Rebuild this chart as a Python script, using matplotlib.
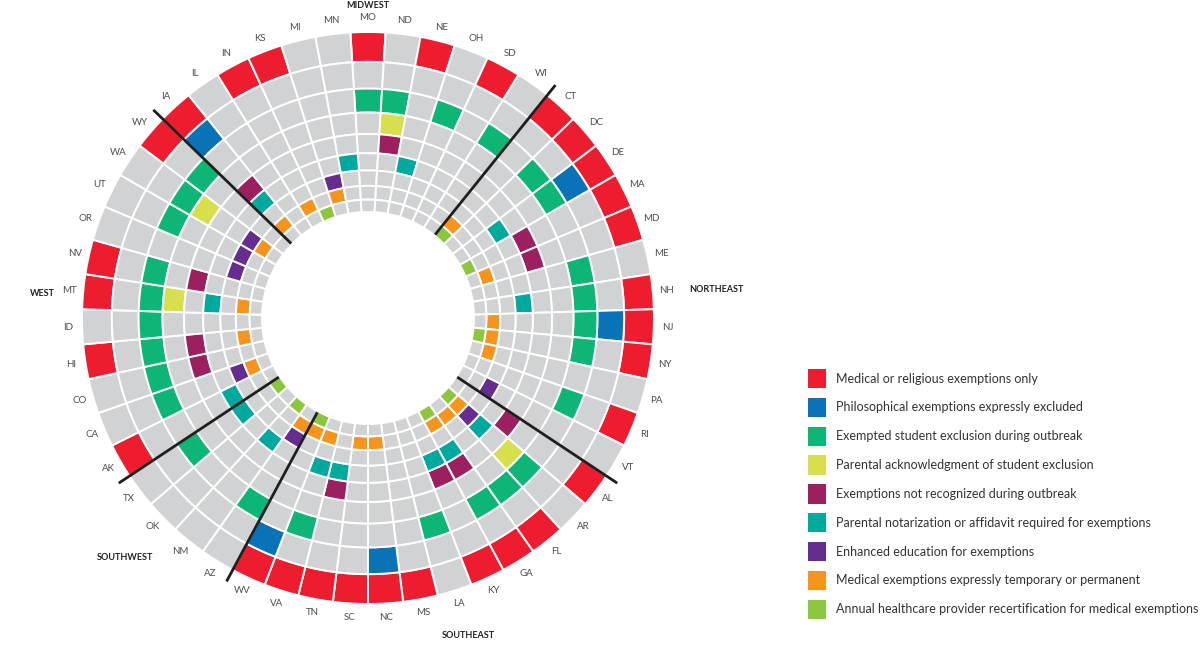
"""Circular heat map: school vaccine-exemption policies by state, grouped by region."""

import numpy as np
import matplotlib
matplotlib.use("Agg")
import matplotlib.pyplot as plt
from matplotlib.patches import Patch
from matplotlib import font_manager


# regions, each in alphabetical order; the wheel runs clockwise from MO at the top
MIDWEST = ["IA", "IL", "IN", "KS", "MI", "MN", "MO", "ND", "NE", "OH", "SD", "WI"]
NORTHEAST = ["CT", "DC", "DE", "MA", "MD", "ME", "NH", "NJ", "NY", "PA", "RI", "VT"]
SOUTHEAST = ["AL", "AR", "FL", "GA", "KY", "LA", "MS", "NC", "SC", "TN", "VA", "WV"]
SOUTHWEST = ["AZ", "NM", "OK", "TX"]
WEST = ["AK", "CA", "CO", "HI", "ID", "MT", "NV", "OR", "UT", "WA", "WY"]

# one ring per policy, outermost first
POLICIES = [
    "Medical or religious exemptions only",
    "Philosophical exemptions expressly excluded",
    "Exempted student exclusion during outbreak",
    "Parental acknowledgment of student exclusion",
    "Exemptions not recognized during outbreak",
    "Parental notarization or affidavit required for exemptions",
    "Enhanced education for exemptions",
    "Medical exemptions expressly temporary or permanent",
    "Annual healthcare provider recertification for medical exemptions",
]
COLORS = ["#ed1c2e", "#0a73b8", "#0db676", "#d8df4c", "#9c1f5f",
          "#00a99d", "#662d91", "#f7941d", "#8cc63f"]
GRAY = "#d1d2d4"

MED_REL_ONLY = ["IN", "KS", "MO", "NE", "SD", "CT", "DC", "DE", "MA", "MD", "NH",
                "NJ", "NY", "RI", "AL", "FL", "GA", "KY", "MS", "NC", "SC", "TN",
                "VA", "WV", "AK", "HI", "MT", "NV", "WY", "IA"]
PHIL_EXCLUDED = ["IA", "DE", "NJ", "WV", "NC"]
EXCLUSION = ["MO", "ND", "OH", "WI", "DC", "DE", "ME", "NH", "NJ", "NY", "RI",
             "AR", "FL", "GA", "LA", "VA", "AZ", "TX", "CA", "CO", "HI", "ID",
             "MT", "NV", "UT", "WA", "WY"]
PARENT_ACK = ["ND", "AR", "WA", "MT"]
NOT_RECOGNIZED = ["ND", "MA", "MD", "AL", "GA", "KY", "TN", "IA", "NV", "HI", "CO"]
NOTARIZATION = ["MN", "NE", "DE", "NH", "AR", "GA", "KY", "VA", "TN", "NM", "TX",
                "AK", "MT", "IA"]
EDUCATION = ["MI", "VT", "AR", "AZ", "CA", "OR", "UT", "WA"]
TEMP_PERM = ["MI", "IN", "IA", "CT", "MD", "NJ", "NY", "PA", "AR", "FL", "GA",
             "NC", "SC", "VA", "WV", "AZ", "CA", "HI", "MT", "WA"]
RECERT = ["KS", "CT", "MA", "NY", "AR", "GA", "WV", "NM", "TX"]

RINGS = [MED_REL_ONLY, PHIL_EXCLUDED, EXCLUSION, PARENT_ACK, NOT_RECOGNIZED,
         NOTARIZATION, EDUCATION, TEMP_PERM, RECERT]

REGION_LABELS = ["MIDWEST", "NORTHEAST", "SOUTHEAST", "SOUTHWEST", "WEST"]

W, H = 1204, 645


def pick_family(names):
    for n in names:
        try:
            font_manager.findfont(n, fallback_to_default=False)
            return n
        except ValueError:
            continue
    return "DejaVu Sans"


def main() -> None:
    states = MIDWEST[6:] + NORTHEAST + SOUTHEAST + SOUTHWEST + WEST + MIDWEST[:6]
    region_of = {}
    for name, group in zip(REGION_LABELS, [MIDWEST, NORTHEAST, SOUTHEAST, SOUTHWEST, WEST]):
        for s in group:
            region_of[s] = name

    fam = pick_family(["Liberation Sans Narrow", "Lato", "Open Sans"])
    plt.rcParams["font.family"] = [fam, "DejaVu Sans"]

    fig = plt.figure(figsize=(W / 100, H / 100), dpi=100)
    cx, cy, rbox = 368, 318, 310
    ax = fig.add_axes([(cx - rbox) / W, (H - cy - rbox) / H, 2 * rbox / W, 2 * rbox / H],
                      projection="polar")
    ax.set_theta_zero_location("N")
    ax.set_theta_direction(-1)
    ax.set_ylim(0, rbox)
    ax.axis("off")

    n = len(states)
    step = 2 * np.pi / n
    theta = np.arange(n) * step
    # ring edges shrink geometrically so cells stay roughly square
    r_out, r_in = 286, 106
    edges = r_out * (r_in / r_out) ** (np.arange(len(RINGS) + 1) / len(RINGS))

    for k, (members, col) in enumerate(zip(RINGS, COLORS)):
        cols = [col if s in members else GRAY for s in states]
        ax.bar(theta, edges[k] - edges[k + 1], width=step, bottom=edges[k + 1],
               color=cols, edgecolor="white", linewidth=1.4, align="center")

    # region dividers
    for i in range(n):
        if region_of[states[i]] != region_of[states[(i + 1) % n]]:
            tb = (i + 0.5) * step
            ax.plot([tb, tb], [107, 299], color="#1e1e1e", lw=2, solid_capstyle="butt")

    for t, s in zip(theta, states):
        ax.text(t, 300, s, ha="center", va="center", fontsize=7, color="#4d4d4d",
                clip_on=False)

    region_pos = {"MIDWEST": (368, 6), "NORTHEAST": (716, 290), "SOUTHEAST": (468, 636),
                  "SOUTHWEST": (125, 558), "WEST": (42, 293)}
    for name, (px, py) in region_pos.items():
        fig.text(px / W, 1 - py / H, name, ha="center", va="center", fontsize=6.5,
                 fontweight="bold", color="#222222")

    # legend text sized so the longest label spans about 362 px
    probe = fig.text(0, 0, POLICIES[-1], fontsize=10)
    fig.canvas.draw()
    wpx = probe.get_window_extent(fig.canvas.get_renderer()).width
    probe.remove()
    fs = min(10.0, 10.0 * 362 / wpx)
    fpx = fs * 100 / 72

    handles = [Patch(facecolor=c, edgecolor="none") for c in COLORS]
    fig.legend(handles, POLICIES, loc="upper left", bbox_to_anchor=(808 / W, 1 - 369 / H),
               frameon=False, fontsize=fs, handlelength=18 / fpx, handleheight=25 / fpx,
               labelspacing=9.5 / fpx, handletextpad=10.5 / fpx, borderpad=0,
               borderaxespad=0, labelcolor="#333333")

    fig.savefig("out.png", dpi=100)
    plt.close(fig)


if __name__ == "__main__":
    main()
